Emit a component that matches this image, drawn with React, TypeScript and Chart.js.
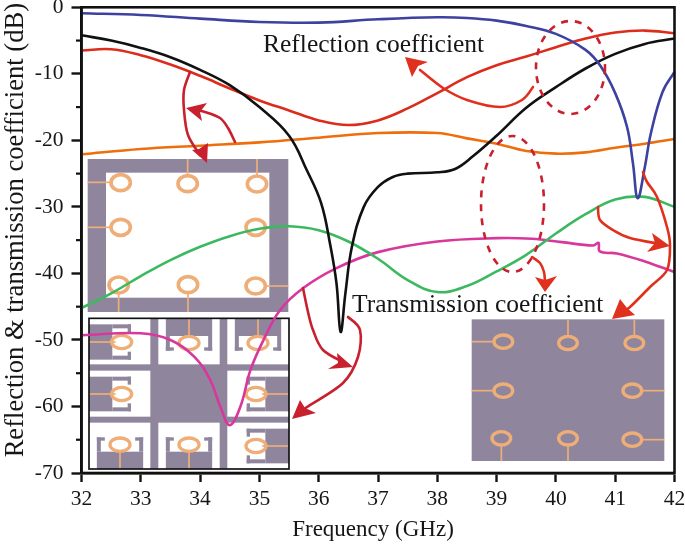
import React, { useEffect, useRef } from "react";
import { Chart, registerables } from "chart.js";

Chart.register(...registerables);

const blueFreq = [32, 33, 34, 35, 36, 37, 38, 38.5, 39, 39.5, 40, 40.5, 40.75, 41, 41.2, 41.3, 41.38, 41.5, 41.6, 41.8, 42];
const blueDb = [-0.9, -1.15, -1.7, -2.2, -2.3, -1.8, -1.5, -1.6, -2.0, -2.8, -4, -6.4, -8.8, -12.9, -18, -23.5, -28.7, -24, -19, -12.7, -9.7];

const blackFreq = [32, 32.5, 33, 33.5, 34, 34.5, 35, 35.5, 35.8, 36.04, 36.19, 36.3, 36.37, 36.45, 36.56, 36.76, 37, 37.25, 37.5, 38, 38.3, 38.6, 39, 39.5, 40, 40.5, 41, 41.5, 42];
const blackDb = [-4.2, -5, -6.1, -7.5, -9.4, -11.7, -15, -19.3, -24.5, -29.4, -35.5, -41.5, -48.8, -43, -36, -30, -27, -25.5, -25, -24.8, -24.3, -22.4, -19.3, -15.1, -12, -9.2, -7, -5.5, -4.7];

const redFreq = [32, 32.5, 33, 33.5, 34, 34.5, 35, 35.5, 36, 36.5, 37, 37.5, 38, 38.5, 39, 39.5, 40, 40.5, 41, 41.5, 42];
const redDb = [-6.5, -6.3, -7.2, -8.6, -10.3, -12.2, -14, -15.5, -17, -17.7, -17, -15.2, -12.9, -10.5, -8.7, -7.4, -6, -4.7, -3.8, -3.5, -3.9];

const orangeFreq = [32, 33, 34, 35, 36, 37, 38, 38.5, 39, 39.5, 40, 40.5, 41, 41.5, 42];
const orangeDb = [-22.1, -21.3, -20.8, -20.3, -19.6, -18.9, -18.9, -19.7, -20.5, -21.6, -22, -21.8, -21.1, -20.5, -19.8];

const greenFreq = [32, 32.5, 33, 33.5, 34, 34.5, 35, 35.5, 36, 36.5, 37, 37.5, 38, 38.5, 39, 39.5, 40, 40.5, 41, 41.5, 42];
const greenDb = [-45.2, -43, -40.4, -38, -36, -34.4, -33.3, -32.9, -33.5, -35.2, -37.8, -41, -42.8, -41.9, -39.7, -37.2, -34, -31.1, -28.9, -28.5, -30];

const magentaFreq = [32, 33, 33.5, 33.9, 34.17, 34.34, 34.5, 34.68, 34.85, 35.07, 35.35, 35.74, 36.3, 37, 38, 39, 39.6, 40.1, 40.63, 40.72, 40.74, 41.03, 41.5, 42];
const magentaDb = [-49.3, -49, -50, -52.5, -56, -60, -62.8, -60, -54.5, -50, -45.5, -42.2, -39.2, -36.8, -35.2, -34.7, -34.8, -35.3, -35.8, -35.4, -36.7, -37, -38.2, -39.8];

const yTicks = [0, -10, -20, -30, -40, -50, -60, -70];
const yMinorTicks = [-5, -15, -25, -35, -45, -55, -65];
const xTicks = [32, 33, 34, 35, 36, 37, 38, 39, 40, 41, 42];

const reflectionLabel = "Reflection coefficient";
const transmissionLabel = "Transmission coefficient";
const xTitle = "Frequency (GHz)";
const yTitle = "Reflection & transmission coefficient (dB)";

const SERIF = '"Liberation Serif", "Times New Roman", serif';
const PURPLE = "#8f869e";
const RING = "#efae78";
const CRIMSON = "#c9202e";
const RED = "#e0301e";

type P = [number, number];

const zip = (xs: number[], ys: number[]) => xs.map((x, i) => ({ x, y: ys[i] }));

function ring(ctx: CanvasRenderingContext2D, x: number, y: number, rx: number, ry: number, lw: number) {
  ctx.strokeStyle = RING;
  ctx.lineWidth = lw;
  ctx.beginPath();
  ctx.ellipse(x, y, rx, ry, 0, 0, Math.PI * 2);
  ctx.stroke();
}

function feed(ctx: CanvasRenderingContext2D, a: P, b: P) {
  ctx.strokeStyle = RING;
  ctx.lineWidth = 5;
  ctx.beginPath();
  ctx.moveTo(a[0], a[1]);
  ctx.lineTo(b[0], b[1]);
  ctx.stroke();
}

function drawInsetOne(ctx: CanvasRenderingContext2D) {
  ctx.save();
  ctx.translate(70, 140);
  ctx.scale(1 / 3, 1 / 3);
  ctx.fillStyle = PURPLE;
  ctx.fillRect(53, 57, 602, 459);
  ctx.fillStyle = "#fff";
  ctx.fillRect(108, 98, 490, 375);
  const feeds: [P, P][] = [
    [[53, 127], [120, 127]], [[353, 57], [353, 105]], [[561, 57], [561, 105]], [[53, 262], [120, 262]],
    [[146, 462], [146, 516]], [[354, 462], [354, 516]], [[588, 438], [655, 438]],
  ];
  feeds.forEach(([a, b]) => feed(ctx, a, b));
  const rings: P[] = [[152, 128], [353, 131], [561, 132], [152, 262], [557, 262], [146, 435], [354, 434], [557, 438]];
  rings.forEach(([x, y]) => ring(ctx, x, y, 29, 24, 11));
  ctx.restore();
}

function unit(ctx: CanvasRenderingContext2D, cx: number, cy: number, rot: number, uHalf: number, vEdge: number, vRec: number, vEnd: number) {
  ctx.save();
  ctx.translate(cx, cy);
  ctx.rotate(rot);
  ctx.fillStyle = PURPLE;
  ctx.fillRect(-uHalf, vEdge, uHalf * 2, vRec - vEdge);
  ctx.fillRect(-uHalf, vRec, 12, vEnd - vRec);
  ctx.fillRect(uHalf - 12, vRec, 12, vEnd - vRec);
  ctx.fillRect(-uHalf, vEnd - 10, 24, 10);
  ctx.fillRect(uHalf - 24, vEnd - 10, 24, 10);
  feed(ctx, [0, vEdge], [0, -18]);
  ctx.restore();
  ring(ctx, cx, cy, 30, 20, 10);
}

function drawInsetTwo(ctx: CanvasRenderingContext2D) {
  ctx.save();
  ctx.translate(70, 300);
  ctx.scale(1 / 3, 1 / 3);
  ctx.fillStyle = PURPLE;
  ctx.fillRect(57, 55, 600, 452);
  ctx.fillStyle = "#fff";
  const cells: [number, number, number, number][] = [
    [57, 57, 184, 136], [265, 57, 184, 136], [472, 57, 185, 136],
    [57, 212, 184, 138], [472, 212, 185, 138],
    [57, 368, 184, 139], [265, 368, 184, 139], [472, 368, 185, 139],
  ];
  cells.forEach(([x, y, w, h]) => ctx.fillRect(x, y, w, h));
  const Q = Math.PI / 2;
  unit(ctx, 155, 126, -Q, 53, -98, -28, 28);
  unit(ctx, 357, 129, 0, 69.5, -72, -21, 23);
  unit(ctx, 564, 129, 0, 69.5, -72, -21, 23);
  unit(ctx, 155, 282, -Q, 52, -98, -28, 28);
  unit(ctx, 558, 282, Q, 52, -99, -28, 28);
  unit(ctx, 150, 434, Math.PI, 69.5, -73, -21, 22);
  unit(ctx, 357, 434, Math.PI, 69.5, -73, -21, 22);
  unit(ctx, 558, 438, Q, 52, -99, -28, 28);
  ctx.strokeStyle = "#111";
  ctx.lineWidth = 5;
  ctx.strokeRect(57, 55, 600, 452);
  ctx.restore();
}

function drawInsetThree(ctx: CanvasRenderingContext2D) {
  ctx.save();
  ctx.translate(450, 230);
  ctx.scale(1 / 3, 1 / 3);
  ctx.fillStyle = PURPLE;
  ctx.fillRect(65, 268, 578, 425);
  const feeds: [P, P][] = [
    [[65, 335], [130, 335]], [[354, 268], [354, 315]], [[553, 268], [553, 315]], [[65, 482], [130, 482]],
    [[578, 482], [643, 482]], [[154, 648], [154, 693]], [[354, 648], [354, 693]], [[578, 629], [643, 629]],
  ];
  feeds.forEach(([a, b]) => feed(ctx, a, b));
  const rings: P[] = [[160, 335], [354, 339], [553, 339], [160, 482], [547, 482], [154, 625], [354, 625], [547, 629]];
  rings.forEach(([x, y]) => ring(ctx, x, y, 28, 20, 10));
  ctx.restore();
}

function arrow(ctx: CanvasRenderingContext2D, color: string, pts: P[], head: P[]) {
  ctx.strokeStyle = color;
  ctx.fillStyle = color;
  ctx.lineWidth = 2.6;
  ctx.lineCap = "round";
  ctx.beginPath();
  ctx.moveTo(pts[0][0], pts[0][1]);
  for (let i = 0; i < pts.length - 1; i++) {
    const p0 = pts[Math.max(0, i - 1)];
    const p1 = pts[i];
    const p2 = pts[i + 1];
    const p3 = pts[Math.min(pts.length - 1, i + 2)];
    ctx.bezierCurveTo(
      p1[0] + (p2[0] - p0[0]) / 6, p1[1] + (p2[1] - p0[1]) / 6,
      p2[0] - (p3[0] - p1[0]) / 6, p2[1] - (p3[1] - p1[1]) / 6,
      p2[0], p2[1],
    );
  }
  ctx.stroke();
  ctx.beginPath();
  head.forEach(([x, y], i) => (i ? ctx.lineTo(x, y) : ctx.moveTo(x, y)));
  ctx.closePath();
  ctx.fill();
  ctx.lineCap = "butt";
}

function dashedEllipse(ctx: CanvasRenderingContext2D, x: number, y: number, rx: number, ry: number) {
  ctx.save();
  ctx.strokeStyle = CRIMSON;
  ctx.lineWidth = 2.6;
  ctx.setLineDash([7, 7]);
  ctx.beginPath();
  ctx.ellipse(x, y, rx, ry, 0, 0, Math.PI * 2);
  ctx.stroke();
  ctx.restore();
}

const insetPlugin = {
  id: "insets",
  beforeDatasetsDraw(chart: any) {
    const ctx = chart.ctx;
    drawInsetOne(ctx);
    drawInsetTwo(ctx);
    drawInsetThree(ctx);
  },
};

const framePlugin = {
  id: "frame",
  afterLayout(chart: any) {
    const shift = (scale: any, dx: number, dy: number) => {
      if (scale.__shifted) return;
      const original = scale.drawTitle;
      scale.drawTitle = function () {
        const c = this.ctx;
        c.save();
        c.translate(dx, dy);
        original.call(this);
        c.restore();
      };
      scale.__shifted = true;
    };
    shift(chart.scales.x, -5, 0);
    shift(chart.scales.y, 0, -10);
  },
  afterDatasetsDraw(chart: any) {
    const ctx = chart.ctx;
    const { left, right, top, bottom } = chart.chartArea;
    ctx.save();
    ctx.strokeStyle = "#111";
    ctx.lineWidth = 2.6;
    ctx.strokeRect(left, top, right - left, bottom - top);
    ctx.lineWidth = 2.2;
    yMinorTicks.forEach((v) => {
      const y = chart.scales.y.getPixelForValue(v);
      ctx.beginPath();
      ctx.moveTo(left, y);
      ctx.lineTo(left - 5.5, y);
      ctx.stroke();
    });

    dashedEllipse(ctx, 570.5, 67.5, 34.5, 46.5);
    dashedEllipse(ctx, 512.5, 204, 31.5, 68);

    arrow(ctx, CRIMSON, [[190, 72], [184, 90], [184, 110], [188, 135], [200, 155]], [[207, 163], [192, 150], [199, 149], [208, 143]]);
    arrow(ctx, CRIMSON, [[235, 142], [228, 128], [220, 118], [205, 112], [195, 110]], [[186, 108], [207, 103], [200, 112], [202, 121]]);
    arrow(ctx, RED, [[533, 87], [522, 100], [500, 107], [467, 100], [443, 88], [420, 70]], [[405, 57], [428, 62], [418, 66], [412, 77]]);
    arrow(ctx, RED, [[643, 172], [647, 182], [657, 197], [667, 227], [670, 245], [667, 270], [650, 287], [630, 307], [620, 314]], [[612, 319], [635, 315], [627, 308], [620, 299]]);
    arrow(ctx, RED, [[598, 207], [600, 220], [613, 230], [630, 238], [660, 244]], [[670, 246], [652, 233], [655, 243], [647, 252]]);
    arrow(ctx, RED, [[532, 257], [540, 263], [544, 272], [545, 282]], [[545, 292], [535, 277], [545, 280], [557, 276]]);
    arrow(ctx, CRIMSON, [[303, 288], [308, 312], [313, 330], [323, 350], [345, 363]], [[353, 367], [337, 353], [338, 363], [328, 369]]);
    arrow(ctx, CRIMSON, [[348, 317], [360, 330], [358, 357], [343, 383], [307, 407], [298, 414]], [[292, 419], [300, 400], [305, 408], [316, 413]]);

    ctx.fillStyle = "#161616";
    ctx.font = `25.5px ${SERIF}`;
    ctx.textAlign = "left";
    ctx.textBaseline = "alphabetic";
    ctx.fillText(reflectionLabel, 263, 52);
    ctx.fillText(transmissionLabel, 352, 312);
    ctx.restore();
  },
};

export default function App() {
  const ref = useRef<HTMLCanvasElement | null>(null);

  useEffect(() => {
    document.body.style.margin = "0";
    const line = (label: string, xs: number[], ys: number[], color: string) => ({
      label,
      data: zip(xs, ys),
      borderColor: color,
      backgroundColor: color,
      borderWidth: 2.6,
      pointRadius: 0,
      tension: 0.4,
      clip: false as any,
    });
    const chart = new Chart(ref.current!, {
      type: "line",
      data: {
        datasets: [
          line("Blue", blueFreq, blueDb, "#3d419f"),
          line("Black", blackFreq, blackDb, "#111111"),
          line("Red", redFreq, redDb, "#dc2c1c"),
          line("Orange", orangeFreq, orangeDb, "#ee6e0c"),
          line("Green", greenFreq, greenDb, "#3cb960"),
          line("Magenta", magentaFreq, magentaDb, "#d8379c"),
        ],
      },
      options: {
        animation: false,
        responsive: false,
        layout: { padding: { left: 0, right: 10.5, top: 7.3, bottom: 0 } },
        plugins: { legend: { display: false }, tooltip: { enabled: false } },
        scales: {
          x: {
            type: "linear",
            min: 32,
            max: 42,
            afterBuildTicks: (s: any) => { s.ticks = xTicks.map((value) => ({ value })); },
            afterFit: (s: any) => { s.height = 71; s.paddingLeft = 0; s.paddingRight = 0; },
            grid: { drawOnChartArea: false, tickLength: 9, tickWidth: 2.4, tickColor: "#111" },
            border: { display: true, color: "#111", width: 2.6 },
            ticks: { color: "#161616", font: { family: SERIF, size: 21.5 }, padding: 4, maxRotation: 0, callback: (v: any) => String(v) },
            title: { display: true, text: xTitle, color: "#161616", font: { family: SERIF, size: 23 }, padding: { top: 2, bottom: 0 } },
          },
          y: {
            type: "linear",
            min: -70,
            max: 0,
            afterBuildTicks: (s: any) => { s.ticks = yTicks.map((value) => ({ value })); },
            afterFit: (s: any) => { s.width = 81.5; s.paddingTop = 0; s.paddingBottom = 0; },
            grid: { drawOnChartArea: false, tickLength: 10, tickWidth: 2.4, tickColor: "#111" },
            border: { display: true, color: "#111", width: 2.6 },
            ticks: { color: "#161616", font: { family: SERIF, size: 21.5 }, padding: 8, callback: (v: any) => String(v) },
            title: { display: true, text: yTitle, color: "#161616", font: { family: SERIF, size: 26.6 }, padding: { top: 0, bottom: 0 } },
          },
        },
      } as any,
      plugins: [insetPlugin, framePlugin],
    });
    return () => chart.destroy();
  }, []);

  return <canvas ref={ref} width={685} height={544} style={{ display: "block" }} />;
}
